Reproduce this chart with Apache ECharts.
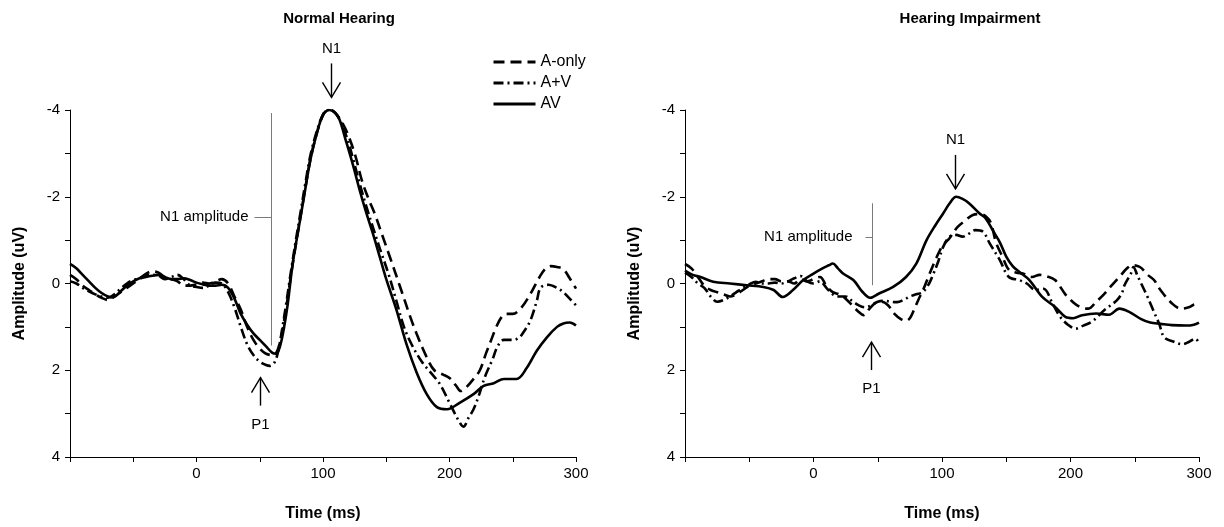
<!DOCTYPE html>
<html>
<head>
<meta charset="utf-8">
<script src="https://cdn.jsdelivr.net/npm/echarts@6/dist/echarts.min.js"></script>
<style>
  html, body { margin: 0; padding: 0; background: #fff; }
  #chart { width: 1224px; height: 527px; }
</style>
</head>
<body>
<div id="chart"></div>
<script>
// Grand-average ERP waveforms, [time (ms), amplitude (uV)]
const seriesNames = ['A-only', 'A+V', 'AV'];
const panelTitles = ['Normal Hearing', 'Hearing Impairment'];
const xAxisName = 'Time (ms)';
const yAxisName = 'Amplitude (uV)';
const xTickValues = [0, 100, 200, 300];
const yTickValues = [-4, -2, 0, 2, 4];

// Normal hearing
const nhAonly = [[-100,-0.2],[-95,-0.1],[-90,0.05],[-85,0.15],[-80,0.25],[-75,0.33],[-70,0.38],[-65,0.3],[-60,0.2],[-55,0.1],[-50,0.0],[-45,-0.1],[-40,-0.22],[-35,-0.28],[-30,-0.25],[-25,-0.15],[-20,-0.1],[-15,-0.05],[-10,0.05],[-5,0.05],[0,0.02],[5,-0.02],[10,0.0],[15,-0.05],[20,-0.1],[25,0.0],[30,0.3],[35,0.6],[40,1.0],[45,1.3],[50,1.5],[55,1.62],[60,1.65],[63,1.6],[66,1.35],[69,0.9],[72,0.35],[75,-0.25],[78,-0.8],[82,-1.5],[86,-2.2],[90,-2.85],[95,-3.45],[100,-3.88],[104,-4.0],[108,-3.98],[112,-3.85],[118,-3.55],[125,-3.0],[131,-2.35],[136,-1.95],[141,-1.6],[147,-1.1],[153,-0.6],[161,0.08],[169,0.77],[174,1.16],[182,1.7],[188,2.0],[195,2.1],[200,2.18],[205,2.35],[209,2.48],[213,2.4],[219,2.2],[224,2.0],[229,1.6],[233,1.3],[237,1.0],[241,0.78],[245,0.7],[250,0.7],[257,0.55],[264,0.24],[271,-0.14],[276,-0.35],[280,-0.4],[285,-0.38],[290,-0.33],[295,-0.12],[300,0.12]];
const nhAplusV = [[-100,-0.05],[-95,0.0],[-90,0.1],[-85,0.18],[-80,0.25],[-75,0.3],[-70,0.33],[-65,0.25],[-60,0.12],[-55,0.0],[-50,-0.08],[-45,-0.12],[-40,-0.2],[-35,-0.2],[-30,-0.18],[-25,-0.1],[-20,-0.15],[-15,-0.2],[-10,-0.1],[-5,0.05],[0,0.08],[5,0.1],[10,0.05],[15,-0.02],[20,0.0],[25,0.2],[30,0.55],[35,1.0],[40,1.4],[45,1.65],[50,1.8],[55,1.88],[58,1.9],[62,1.8],[65,1.5],[68,1.0],[71,0.45],[74,-0.15],[78,-0.9],[82,-1.6],[86,-2.3],[90,-2.95],[95,-3.5],[100,-3.9],[104,-4.0],[108,-3.97],[113,-3.8],[119,-3.35],[124,-2.85],[129,-2.3],[134,-1.8],[140,-1.25],[145,-0.8],[152,-0.2],[158,0.4],[164,1.0],[170,1.4],[178,1.8],[185,2.05],[192,2.3],[200,2.75],[207,3.15],[211,3.3],[215,3.1],[219,2.9],[223,2.6],[228,2.15],[234,1.75],[238,1.45],[243,1.3],[250,1.3],[255,1.25],[259,1.1],[264,0.85],[269,0.4],[272,0.1],[278,0.03],[285,0.1],[290,0.2],[295,0.35],[300,0.5]];
const nhAV = [[-100,-0.45],[-95,-0.35],[-90,-0.2],[-85,-0.05],[-80,0.1],[-75,0.22],[-70,0.3],[-66,0.32],[-60,0.18],[-55,0.05],[-50,-0.05],[-45,-0.12],[-40,-0.15],[-35,-0.18],[-30,-0.2],[-25,-0.15],[-20,-0.1],[-15,-0.1],[-10,-0.12],[-5,-0.08],[0,-0.02],[5,0.02],[10,0.05],[15,0.05],[20,0.03],[25,0.1],[30,0.35],[35,0.7],[40,0.95],[45,1.15],[50,1.3],[55,1.45],[60,1.6],[63,1.62],[66,1.45],[69,1.05],[72,0.5],[76,-0.45],[80,-1.15],[85,-2.0],[90,-2.85],[95,-3.45],[100,-3.88],[105,-4.0],[109,-3.95],[113,-3.78],[118,-3.3],[124,-2.7],[129,-2.15],[134,-1.65],[140,-1.1],[145,-0.6],[150,-0.1],[158,0.6],[166,1.4],[174,2.05],[182,2.55],[190,2.85],[198,2.9],[208,2.75],[219,2.55],[227,2.36],[235,2.3],[243,2.2],[253,2.2],[261,1.95],[269,1.55],[277,1.24],[285,1.0],[290,0.92],[295,0.9],[300,0.97]];

// Hearing impairment
const hiAonly = [[-100,-0.45],[-95,-0.35],[-90,-0.15],[-85,0.05],[-80,0.15],[-75,0.2],[-70,0.25],[-65,0.3],[-60,0.25],[-55,0.15],[-50,0.05],[-45,0.0],[-40,-0.05],[-35,-0.1],[-30,-0.1],[-25,-0.05],[-20,-0.05],[-15,0.0],[-10,-0.1],[-5,-0.05],[0,-0.1],[5,-0.15],[10,0.05],[15,0.2],[20,0.25],[25,0.35],[30,0.5],[35,0.65],[39,0.73],[43,0.6],[48,0.45],[53,0.42],[58,0.5],[63,0.7],[68,0.82],[72,0.86],[75,0.8],[78,0.62],[82,0.35],[86,0.1],[90,-0.2],[95,-0.55],[100,-0.85],[106,-1.05],[112,-1.3],[118,-1.45],[124,-1.58],[130,-1.6],[134,-1.55],[138,-1.4],[142,-0.95],[147,-0.62],[152,-0.32],[158,-0.25],[163,-0.23],[170,-0.15],[176,-0.2],[181,-0.17],[188,-0.08],[196,0.25],[202,0.43],[208,0.55],[214,0.58],[220,0.42],[226,0.25],[231,0.08],[238,-0.15],[244,-0.35],[248,-0.42],[254,-0.38],[260,-0.2],[265,-0.08],[270,0.15],[279,0.46],[286,0.58],[292,0.55],[297,0.48],[300,0.55]];
const hiAplusV = [[-100,-0.25],[-95,-0.15],[-90,0.0],[-85,0.1],[-80,0.3],[-75,0.42],[-70,0.38],[-65,0.3],[-60,0.2],[-55,0.1],[-50,0.02],[-45,-0.04],[-40,0.0],[-35,0.0],[-30,-0.02],[-25,0.0],[-20,-0.05],[-15,-0.12],[-10,-0.17],[-5,-0.05],[0,0.0],[5,-0.05],[10,0.1],[15,0.25],[20,0.3],[25,0.3],[30,0.4],[35,0.5],[40,0.55],[45,0.5],[50,0.42],[55,0.4],[60,0.42],[65,0.43],[70,0.38],[75,0.3],[80,0.25],[85,0.2],[90,0.0],[93,-0.2],[97,-0.5],[101,-0.85],[106,-1.08],[111,-1.12],[116,-1.08],[121,-1.15],[126,-1.23],[132,-1.19],[137,-0.93],[145,-0.54],[152,-0.15],[160,-0.08],[166,0.0],[173,0.15],[179,0.12],[186,0.46],[192,0.77],[198,0.95],[204,1.04],[210,0.97],[216,0.89],[221,0.77],[226,0.62],[236,0.39],[240,0.22],[242,0.04],[247,-0.23],[249,-0.38],[252,-0.19],[255,0.0],[260,0.31],[262,0.45],[265,0.66],[269,0.93],[273,1.24],[281,1.35],[287,1.4],[292,1.35],[297,1.27],[300,1.38]];
const hiAV = [[-100,-0.3],[-94,-0.2],[-88,-0.15],[-78,-0.04],[-65,0.0],[-52,0.04],[-39,0.08],[-31,0.15],[-24,0.31],[-16,0.15],[-8,-0.08],[0,-0.23],[7,-0.35],[12,-0.42],[15,-0.46],[19,-0.35],[23,-0.23],[31,-0.08],[38,0.19],[44,0.33],[51,0.23],[62,0.08],[72,-0.15],[80,-0.46],[88,-1.0],[95,-1.35],[101,-1.62],[106,-1.85],[111,-2.0],[116,-1.95],[121,-1.85],[129,-1.62],[134,-1.5],[140,-1.2],[145,-0.95],[150,-0.62],[155,-0.4],[160,-0.27],[168,-0.08],[178,0.31],[188,0.54],[196,0.77],[202,0.8],[209,0.73],[220,0.69],[230,0.72],[238,0.58],[246,0.66],[255,0.82],[262,0.9],[270,0.93],[279,0.96],[290,0.97],[296,0.95],[300,0.9]];

const panelData = [
  [nhAonly, nhAplusV, nhAV],
  [hiAonly, hiAplusV, hiAV]
];

// Component labels, anchored in data space: [time, amplitude]
const peakMarks = [
  { n1: [106, -4.29], p1: [50, 2.17] },
  { n1: [110, -2.18], p1: [45, 1.35] }
];
// N1 amplitude bracket: time, top, bottom, tick amplitude
const ampBrackets = [
  { t: 59, top: -3.93, bottom: 1.43, tick: -1.54, tickLen: 17, textGap: 6 },
  { t: 45.5, top: -1.85, bottom: 0.04, tick: -1.08, tickLen: 7, textGap: 13 }
];

const FONT = "'Liberation Sans', Arial, Helvetica, sans-serif";
const lineStyles = [
  { type: [11, 6], width: 2.6 },
  { type: [10, 4, 2, 4], width: 2.6 },
  { type: 'solid', width: 2.6 }
];

const gridBoxes = [
  { left: 70, right: 648, top: 110, bottom: 70 },
  { left: 685, right: 25, top: 110, bottom: 70 }
];
const titleCenters = [334, 965];

const chart = echarts.init(document.getElementById('chart'), null, { renderer: 'canvas' });

const xAxes = gridBoxes.map((g, i) => ({
  type: 'value', gridIndex: i, min: -100, max: 300, interval: 50,
  name: xAxisName, nameLocation: 'middle', nameGap: 49,
  nameTextStyle: { fontFamily: FONT, fontWeight: 'bold', fontSize: 16, color: '#000' },
  axisLine: { onZero: false, lineStyle: { color: '#000', width: 1 } },
  axisTick: { show: true, inside: false, length: 5, lineStyle: { color: '#000' } },
  axisLabel: {
    fontFamily: FONT, fontSize: 15, color: '#000', margin: 9,
    formatter: v => (xTickValues.indexOf(v) >= 0 ? String(v) : '')
  },
  splitLine: { show: false }
}));

const yAxes = gridBoxes.map((g, i) => ({
  type: 'value', gridIndex: i, min: -4, max: 4, interval: 1, inverse: true,
  name: yAxisName, nameLocation: 'middle', nameGap: 42, nameRotate: 90,
  nameTextStyle: { fontFamily: FONT, fontWeight: 'bold', fontSize: 16, color: '#000' },
  axisLine: { show: true, onZero: false, lineStyle: { color: '#000', width: 1 } },
  axisTick: { show: true, inside: false, length: 5, lineStyle: { color: '#000' } },
  axisLabel: {
    fontFamily: FONT, fontSize: 15, color: '#000', margin: 10,
    formatter: v => (yTickValues.indexOf(v) >= 0 ? String(v) : '')
  },
  splitLine: { show: false }
}));

const series = [];
panelData.forEach((sets, p) => {
  sets.forEach((data, k) => {
    series.push({
      name: seriesNames[k], type: 'line', xAxisIndex: p, yAxisIndex: p,
      data: data, smooth: 0.35, symbol: 'none', showSymbol: false,
      lineStyle: { color: '#000', width: lineStyles[k].width, type: lineStyles[k].type, cap: 'butt', join: 'round' },
      itemStyle: { color: '#000' },
      emphasis: { disabled: true }, silent: true, z: 3 - k
    });
  });
});

chart.setOption({
  animation: false,
  backgroundColor: '#fff',
  title: panelTitles.map((t, i) => ({
    text: t, left: titleCenters[i], top: 6, textAlign: 'center',
    textStyle: { fontFamily: FONT, fontWeight: 'bold', fontSize: 15, color: '#000' }
  })),
  legend: {
    show: true,
    data: seriesNames, orient: 'vertical', left: 487, top: 49,
    itemWidth: 42, itemHeight: 14, itemGap: 5, selectedMode: false,
    itemStyle: { opacity: 0 },
    lineStyle: { width: 3 },
    textStyle: { fontFamily: FONT, fontSize: 16, color: '#000', lineHeight: 14 }
  },
  grid: gridBoxes.map(g => Object.assign({ containLabel: false }, g)),
  xAxis: xAxes,
  yAxis: yAxes,
  series: series
});

// Arrows, labels and the N1 amplitude brackets, placed through the axes' scales
function px(i, t, v) { return chart.convertToPixel({ gridIndex: i }, [t, v]); }
function arrow(tip, dir, len, els) {
  // dir: +1 pointing down, -1 pointing up
  const x = Math.round(tip[0]) + 0.5, y = tip[1];
  els.push({ type: 'line', silent: true, shape: { x1: x, y1: y - dir * len, x2: x, y2: y },
    style: { stroke: '#000', lineWidth: 1.4 } });
  els.push({ type: 'polyline', silent: true,
    shape: { points: [[x - 9, y - dir * 15], [x, y], [x + 9, y - dir * 15]] },
    style: { stroke: '#000', lineWidth: 1.4, fill: null } });
}
const gfx = [];
peakMarks.forEach((m, i) => {
  const n1 = px(i, m.n1[0], m.n1[1]);
  const p1 = px(i, m.p1[0], m.p1[1]);
  arrow(n1, 1, 34, gfx);
  arrow(p1, -1, 28, gfx);
  gfx.push({ type: 'text', silent: true, style: { text: 'N1', x: Math.round(n1[0]) + 0.5, y: n1[1] - 49,
    align: 'center', verticalAlign: 'middle', font: '15px ' + FONT, fill: '#000' } });
  gfx.push({ type: 'text', silent: true, style: { text: 'P1', x: Math.round(p1[0]) + 0.5, y: p1[1] + 47,
    align: 'center', verticalAlign: 'middle', font: '15px ' + FONT, fill: '#000' } });
});
ampBrackets.forEach((b, i) => {
  const top = px(i, b.t, b.top), bot = px(i, b.t, b.bottom), tk = px(i, b.t, b.tick);
  const x = Math.round(top[0]) + 0.5;
  gfx.push({ type: 'line', silent: true, shape: { x1: x, y1: top[1], x2: x, y2: bot[1] },
    style: { stroke: '#7a7a7a', lineWidth: 1 } });
  gfx.push({ type: 'line', silent: true, shape: { x1: x - b.tickLen, y1: Math.round(tk[1]) + 0.5, x2: x, y2: Math.round(tk[1]) + 0.5 },
    style: { stroke: '#7a7a7a', lineWidth: 1 } });
  gfx.push({ type: 'text', silent: true, style: { text: 'N1 amplitude', x: x - b.tickLen - b.textGap, y: tk[1],
    align: 'right', verticalAlign: 'middle', font: '15px ' + FONT, fill: '#000' } });
});
chart.setOption({ graphic: { elements: gfx } });
</script>
</body>
</html>
